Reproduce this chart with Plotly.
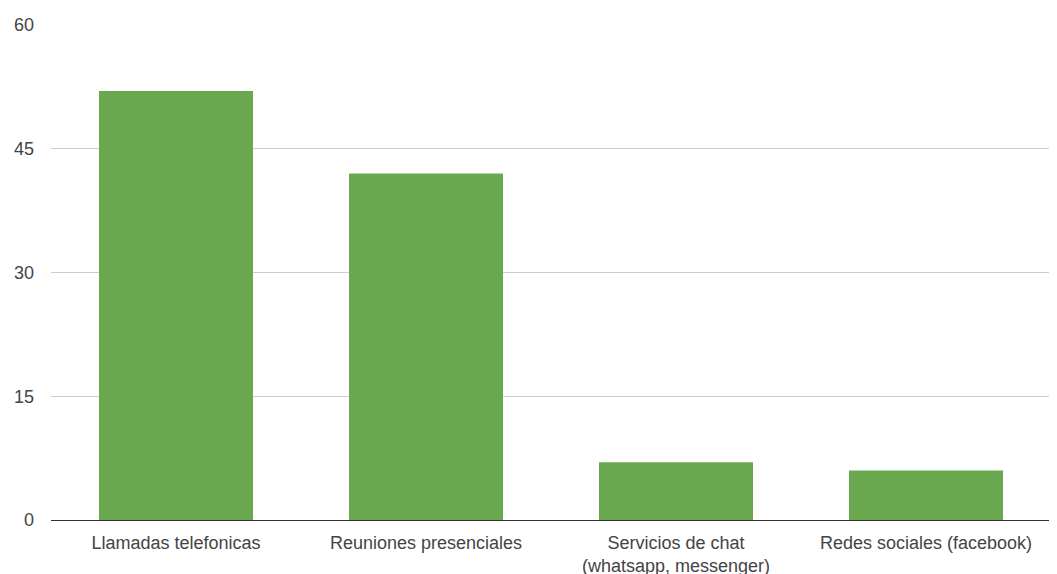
import plotly.graph_objects as go

categories = ["Llamadas telefonicas", "Reuniones presenciales", "Servicios de chat<br>(whatsapp, messenger)", "Redes sociales (facebook)"]
values = [52, 42, 7, 6]
tick_vals = [0, 15, 30, 45, 60]

fig = go.Figure(go.Bar(x=categories, y=values, marker=dict(color="#6aa84f", line=dict(width=0)), width=0.616))

fig.update_layout(
    width=1049, height=566,
    margin=dict(l=43, r=6, t=17, b=54),
    paper_bgcolor="white", plot_bgcolor="white",
    font=dict(family="Liberation Sans, Arial, sans-serif", size=18, color="#444444"),
    showlegend=False,
    bargap=0.384,
)
fig.update_yaxes(range=[0, 60], tickvals=tick_vals, showgrid=True, gridcolor="#cccccc", gridwidth=1,
                 zeroline=False, showline=False, ticks="", ticklabelstandoff=16, automargin=False)
fig.update_xaxes(showline=True, linecolor="#333333", linewidth=1, ticks="", ticklabelstandoff=6, automargin=False)

fig.write_html("out.html")
